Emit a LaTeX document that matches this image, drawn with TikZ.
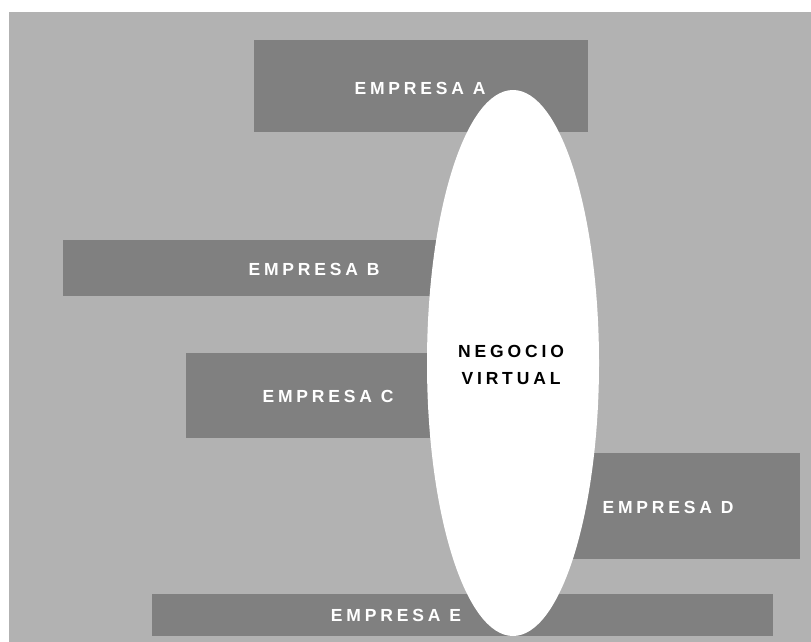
\documentclass[tikz,border=0pt]{standalone}
\usepackage{fontspec}
\setmainfont{Liberation Sans}
\newfontfamily\spaced[LetterSpace=22,BoldFont={Liberation Sans Bold}]{Liberation Sans}
\usetikzlibrary{shapes.geometric}
\definecolor{bggray}{HTML}{B2B2B2}
\definecolor{boxgray}{HTML}{808080}
\begin{document}
\begin{tikzpicture}[x=1pt,y=-1pt,
  firm/.style={fill=boxgray,draw=none,inner sep=0pt},
  firmtext/.style={text=white,font=\spaced\bfseries\fontsize{17.5}{20}\selectfont,inner sep=0pt},
  hub/.style={ellipse,fill=white,draw=none,inner sep=0pt,minimum width=172,minimum height=546},
  hubtext/.style={text=black,align=center,font=\spaced\bfseries\fontsize{17.5}{27}\selectfont,inner sep=0pt}]
  \useasboundingbox (0,0) rectangle (811,642);
  % background panel
  \fill[bggray] (9,12) rectangle (811,642);
  % company boxes
  \node[firm,minimum width=334,minimum height=92] (ra) at (421,86) {};
  \node[firm,minimum width=380,minimum height=56] (rb) at (253,268) {};
  \node[firm,minimum width=260,minimum height=85] (rc) at (316,395.5) {};
  \node[firm,minimum width=228,minimum height=106] (rd) at (686,506) {};
  \node[firm,minimum width=621,minimum height=42] (re) at (462.5,615) {};
  % company names
  \node[firmtext] (ta) at (420,88) {EMPRESA A};
  \node[firmtext] (tb) at (314,269) {EMPRESA B};
  \node[firmtext] (tc) at (328,396) {EMPRESA C};
  \node[firmtext] (td) at (668,507) {EMPRESA D};
  \node[firmtext] (te) at (396,615) {EMPRESA E};
  % shared virtual business
  \node[hub] (hub) at (513,363) {};
  \node[hubtext] (ht) at (511,365) {NEGOCIO\\VIRTUAL};
\end{tikzpicture}
\end{document}
